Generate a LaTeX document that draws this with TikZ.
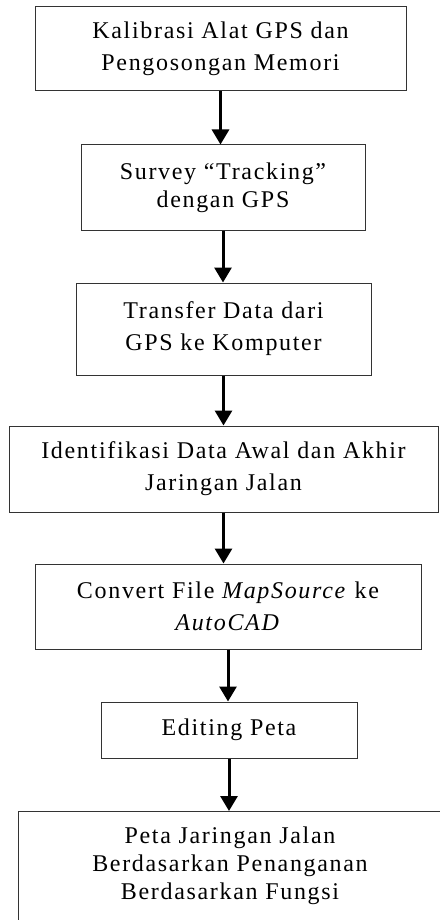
\documentclass[tikz,border=0pt]{standalone}
\usepackage{fontspec}
\setmainfont{Liberation Serif}[LetterSpace=7]
\usetikzlibrary{arrows.meta}

\begin{document}
\begin{tikzpicture}[x=1pt,y=1pt,
  box/.style={draw=black!80,line width=1pt,align=center,inner sep=0pt,
    font=\fontsize{24}{32}\selectfont},
  tight/.style={font=\fontsize{24}{28}\selectfont},
  arr/.style={line width=3pt,-{Triangle[width=17pt,length=15pt]}}]
  \useasboundingbox (0,0) rectangle (439,-920);
  % process boxes
  \node[box,minimum width=371,minimum height=84] (kalib) at (220.5,-49)
    {Kalibrasi Alat GPS dan\\Pengosongan Memori};
  \node[box,tight,minimum width=284,minimum height=85] (survey) at (223,-187.5)
    {Survey ``Tracking''\\dengan GPS};
  \node[box,minimum width=295,minimum height=92] (transfer) at (223.5,-329)
    {Transfer Data dari\\GPS ke Komputer};
  \node[box,minimum width=429,minimum height=86] (ident) at (223.5,-469)
    {Identifikasi Data Awal dan Akhir\\Jaringan Jalan};
  \node[box,minimum width=386,minimum height=85] (convert) at (228,-606.5)
    {Convert File \textit{MapSource} ke\\\textit{AutoCAD}};
  \node[box,minimum width=256,minimum height=56] (edit) at (229,-730)
    {Editing Peta};
  % last box runs off the page
  \node[box,tight,anchor=north,minimum width=424,inner ysep=15pt,text depth=90pt] (peta) at (230,-811)
    {Peta Jaringan Jalan\\Berdasarkan Penanganan\\Berdasarkan Fungsi};
  % arrows
  \draw[arr] (kalib.south) -- (kalib.south |- survey.north);
  \draw[arr] (survey.south) -- (survey.south |- transfer.north);
  \draw[arr] (transfer.south) -- (transfer.south |- ident.north);
  \draw[arr] (ident.south) -- (ident.south |- convert.north);
  \draw[arr] (convert.south) -- (convert.south |- edit.north);
  \draw[arr] (edit.south) -- (edit.south |- peta.north);
\end{tikzpicture}
\end{document}
